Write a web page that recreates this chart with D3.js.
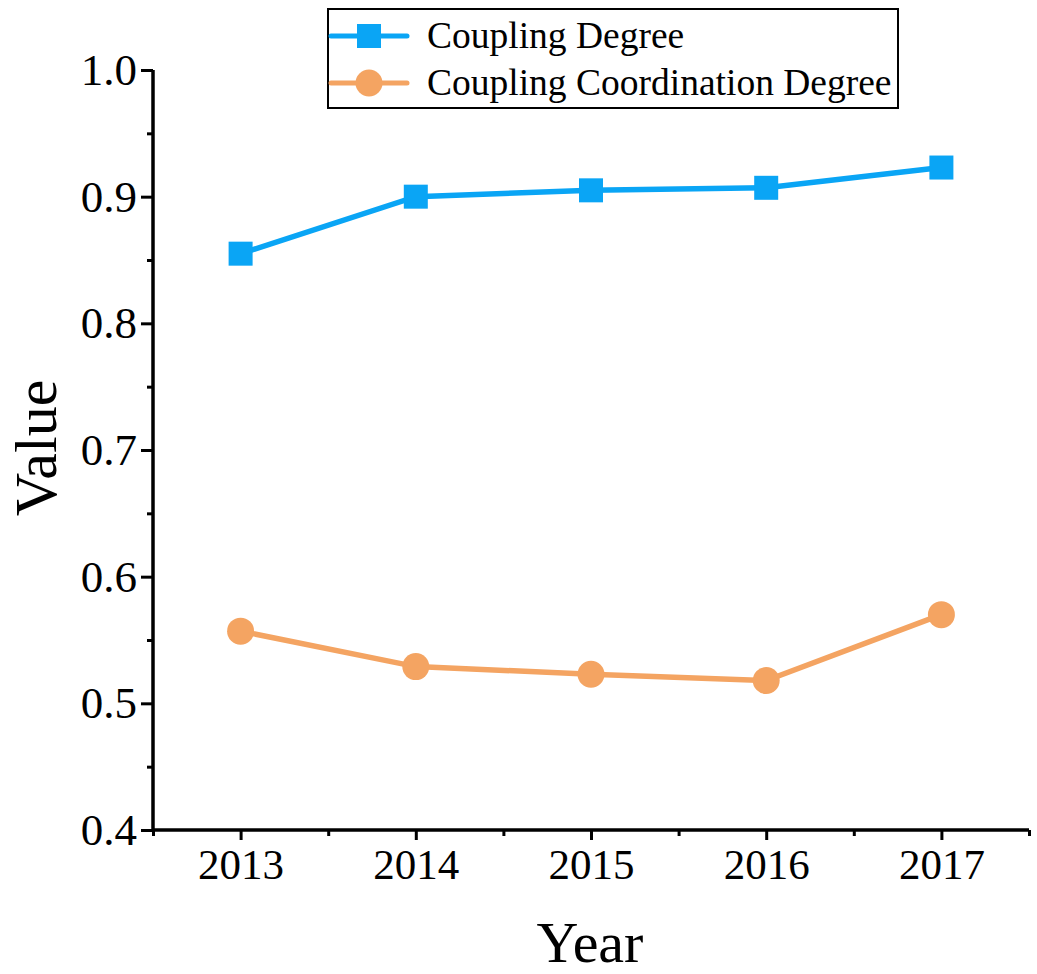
<!DOCTYPE html>
<html><head><meta charset="utf-8">
<script src="https://cdn.jsdelivr.net/npm/d3@7"></script>
<style>body{margin:0;background:#fff}</style>
</head><body>
<svg id="c" width="1037" height="974"></svg>
<script>
const years = [2013, 2014, 2015, 2016, 2017];
const couplingDegree = [0.855, 0.900, 0.905, 0.907, 0.923];
const couplingCoordination = [0.557, 0.529, 0.523, 0.518, 0.570];
const yTicks = [0.4, 0.5, 0.6, 0.7, 0.8, 0.9, 1.0];
const seriesNames = ["Coupling Degree", "Coupling Coordination Degree"];

const svg = d3.select("#c");
const font = "'Liberation Serif','Times New Roman',serif";
const blue = "#0aa5f5", orange = "#f4a462";
const L = 153, R = 1029, T = 70, B = 830;

const x = d3.scaleLinear().domain([2012.5, 2017.5]).range([L, R]);
const y = d3.scaleLinear().domain([0.4, 1.0]).range([B, T]);

// Y axis
const yAxis = svg.append("g").attr("transform", `translate(${L},0)`)
  .call(d3.axisLeft(y).tickValues(yTicks).tickFormat(d3.format(".1f")).tickSize(12).tickPadding(4));
svg.append("g").attr("transform", `translate(${L},0)`)
  .call(d3.axisLeft(y).tickValues(d3.range(0.45, 1.0, 0.1)).tickFormat("").tickSize(6))
  .select(".domain").remove();
// X axis
const xAxis = svg.append("g").attr("transform", `translate(0,${B})`)
  .call(d3.axisBottom(x).tickValues(years).tickFormat(d3.format("d")).tickSize(10).tickPadding(8));
svg.append("g").attr("transform", `translate(0,${B})`)
  .call(d3.axisBottom(x).tickValues(d3.range(2012.5, 2018, 1)).tickFormat("").tickSize(6))
  .select(".domain").remove();

svg.selectAll(".domain").attr("stroke", "#000").attr("stroke-width", 3.5);
svg.selectAll(".tick line").attr("stroke", "#000").attr("stroke-width", 3);
yAxis.selectAll(".domain").attr("d", `M0,${T}V${B}`);
xAxis.selectAll(".domain").attr("d", `M${L},0H${R}`);
yAxis.selectAll(".tick text").attr("font-family", font).attr("font-size", 45).attr("fill", "#000");
xAxis.selectAll(".tick text").attr("font-family", font).attr("font-size", 43).attr("fill", "#000");

// Axis titles
svg.append("text").attr("x", 590).attr("y", 962).attr("text-anchor", "middle")
  .attr("font-family", font).attr("font-size", 58).text("Year");
svg.append("text").attr("transform", "translate(56,448) rotate(-90)").attr("text-anchor", "middle")
  .attr("font-family", font).attr("font-size", 60).text("Value");

const line = d3.line().x((d, i) => x(years[i])).y(d => y(d));

// series
svg.append("path").datum(couplingDegree).attr("d", line).attr("fill", "none")
  .attr("stroke", blue).attr("stroke-width", 5.5);
svg.selectAll(".sq").data(couplingDegree).enter().append("rect")
  .attr("x", (d, i) => x(years[i]) - 12).attr("y", d => y(d) - 12)
  .attr("width", 24).attr("height", 24).attr("fill", blue);

svg.append("path").datum(couplingCoordination).attr("d", line).attr("fill", "none")
  .attr("stroke", orange).attr("stroke-width", 5.5);
svg.selectAll(".ci").data(couplingCoordination).enter().append("circle")
  .attr("cx", (d, i) => x(years[i])).attr("cy", d => y(d)).attr("r", 13.5).attr("fill", orange);

// Legend
const lg = svg.append("g");
lg.append("rect").attr("x", 328).attr("y", 9).attr("width", 570).attr("height", 99)
  .attr("fill", "#fff").attr("stroke", "#000").attr("stroke-width", 2);
const rows = [{n: seriesNames[0], c: blue, s: "sq", yy: 36}, {n: seriesNames[1], c: orange, s: "ci", yy: 83}];
rows.forEach(r => {
  lg.append("line").attr("x1", 331).attr("x2", 407).attr("y1", r.yy).attr("y2", r.yy)
    .attr("stroke", r.c).attr("stroke-width", 5).attr("stroke-linecap", "round");
  if (r.s === "sq") lg.append("rect").attr("x", 357).attr("y", r.yy - 12).attr("width", 24).attr("height", 24).attr("fill", r.c);
  else lg.append("circle").attr("cx", 369).attr("cy", r.yy).attr("r", 13.5).attr("fill", r.c);
  lg.append("text").attr("x", 427).attr("y", r.yy + 12).attr("font-family", font).attr("font-size", 37.5).text(r.n);
});
</script>
</body></html>
